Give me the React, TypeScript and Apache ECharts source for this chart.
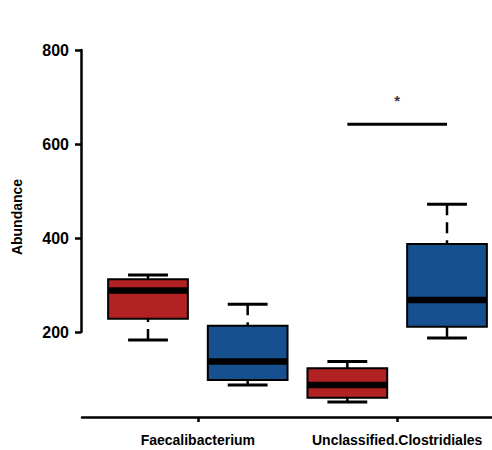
import React, { useEffect, useRef } from "react";
import * as echarts from "echarts";

// Categories on the x axis
const genera = ["Faecalibacterium", "Unclassified.Clostridiales"];
// Two groups per genus (red = first group, blue = second group)
const groupColors = ["#B22222", "#17508F"];
// [min, Q1, median, Q3, max] for each genus
const redStats = [
  [183, 228, 288, 312, 321],
  [51, 60, 87, 123, 137],
];
const blueStats = [
  [87, 98, 137, 213, 259],
  [187, 211, 268, 387, 472],
];
const yTicks = [200, 400, 600, 800];
// significance bracket between the two groups of one genus
const sigGenusIndex = 1;
const sigLevel = 642;
const sigLabel = "*";

export default function App() {
  const ref = useRef<HTMLDivElement>(null);

  useEffect(() => {
    if (!ref.current) return;
    const chart = echarts.init(ref.current, undefined, { renderer: "svg" });

    const boxData: number[][] = [];
    genera.forEach((_, g) => {
      boxData.push([2 * g + 1, ...redStats[g], 0]);
      boxData.push([2 * g + 2, ...blueStats[g], 1]);
    });
    const labelPositions = genera.map((_, g) => 2 * g + 1.5);

    const font = "'Liberation Sans', Arial, Helvetica, sans-serif";

    const option: any = {
      animation: false,
      grid: [
        { left: 82, right: 0, top: 50, bottom: 33 },
        { left: 81, top: 50, height: 282, width: 1 },
      ],
      xAxis: [
        {
          gridIndex: 0,
          type: "value",
          min: 0.3378,
          max: 4.4515,
          splitLine: { show: false },
          axisLine: { show: true, lineStyle: { color: "#000", width: 2.5 } },
          axisTick: {
            show: true,
            length: 5,
            customValues: labelPositions,
            lineStyle: { color: "#000", width: 2.5 },
          },
          axisLabel: {
            customValues: labelPositions,
            formatter: (v: number) => {
              const idx = Math.round((v - 1.5) / 2);
              return genera[idx] ?? "";
            },
            color: "#000",
            fontFamily: font,
            fontWeight: "bold",
            fontSize: 14,
            margin: 16,
          },
        },
        { gridIndex: 1, type: "value", show: false, min: 0, max: 1 },
      ],
      yAxis: [
        { gridIndex: 0, type: "value", min: 19, max: 800, show: false },
        {
          gridIndex: 1,
          type: "value",
          min: yTicks[0],
          max: yTicks[yTicks.length - 1],
          interval: yTicks[1] - yTicks[0],
          name: "Abundance",
          nameLocation: "middle",
          nameGap: 57,
          nameTextStyle: {
            color: "#000",
            fontFamily: font,
            fontWeight: "bold",
            fontSize: 14,
            padding: [0, 52, 0, 0],
          },
          splitLine: { show: false },
          axisLine: { show: true, lineStyle: { color: "#000", width: 2.5 } },
          axisTick: { show: true, length: 6, lineStyle: { color: "#000", width: 2.5 } },
          axisLabel: {
            color: "#000",
            fontFamily: font,
            fontWeight: "bold",
            fontSize: 16,
            margin: 12,
          },
        },
      ],
      series: [
        {
          type: "custom",
          xAxisIndex: 0,
          yAxisIndex: 0,
          data: boxData,
          encode: { x: 0, y: [1, 2, 3, 4, 5] },
          renderItem: (params: any, api: any) => {
            const x = api.value(0);
            const lo = api.value(1);
            const q1 = api.value(2);
            const med = api.value(3);
            const q3 = api.value(4);
            const hi = api.value(5);
            const color = groupColors[api.value(6)];
            const w = api.size([0.8, 0])[0];
            const capW = w / 2;
            const pLo = api.coord([x, lo]);
            const pQ1 = api.coord([x, q1]);
            const pMed = api.coord([x, med]);
            const pQ3 = api.coord([x, q3]);
            const pHi = api.coord([x, hi]);
            const cx = pLo[0];
            const whiskerStyle = { stroke: "#000", lineWidth: 2.5, lineDash: [11, 7] };
            const capStyle = { stroke: "#000", lineWidth: 3 };
            return {
              type: "group",
              children: [
                { type: "line", shape: { x1: cx, y1: pHi[1], x2: cx, y2: pQ3[1] }, style: whiskerStyle },
                { type: "line", shape: { x1: cx, y1: pLo[1], x2: cx, y2: pQ1[1] }, style: whiskerStyle },
                { type: "line", shape: { x1: cx - capW / 2, y1: pHi[1], x2: cx + capW / 2, y2: pHi[1] }, style: capStyle },
                { type: "line", shape: { x1: cx - capW / 2, y1: pLo[1], x2: cx + capW / 2, y2: pLo[1] }, style: capStyle },
                {
                  type: "rect",
                  shape: { x: cx - w / 2, y: pQ3[1], width: w, height: pQ1[1] - pQ3[1] },
                  style: { fill: color, stroke: "#000", lineWidth: 2 },
                },
                {
                  type: "rect",
                  shape: { x: cx - w / 2, y: pMed[1] - 3.25, width: w, height: 6.5 },
                  style: { fill: "#000" },
                },
              ],
            };
          },
        },
        {
          type: "line",
          xAxisIndex: 0,
          yAxisIndex: 0,
          data: [
            [2 * sigGenusIndex + 1, sigLevel],
            [2 * sigGenusIndex + 2, sigLevel],
          ],
          symbol: "none",
          lineStyle: { color: "#000", width: 3 },
          silent: true,
        },
        {
          type: "scatter",
          xAxisIndex: 0,
          yAxisIndex: 0,
          data: [[2 * sigGenusIndex + 1.5, sigLevel]],
          symbolSize: 1,
          itemStyle: { color: "rgba(0,0,0,0)" },
          label: {
            show: true,
            position: "top",
            distance: 16,
            formatter: sigLabel,
            color: "#000",
            fontFamily: font,
            fontWeight: "bold",
            fontSize: 15,
          },
          silent: true,
        },
      ],
    };

    chart.setOption(option);
    return () => chart.dispose();
  }, []);

  return (
    <div
      ref={ref}
      style={{ position: "fixed", left: 0, top: 0, width: 492, height: 450, background: "#fff" }}
    />
  );
}
